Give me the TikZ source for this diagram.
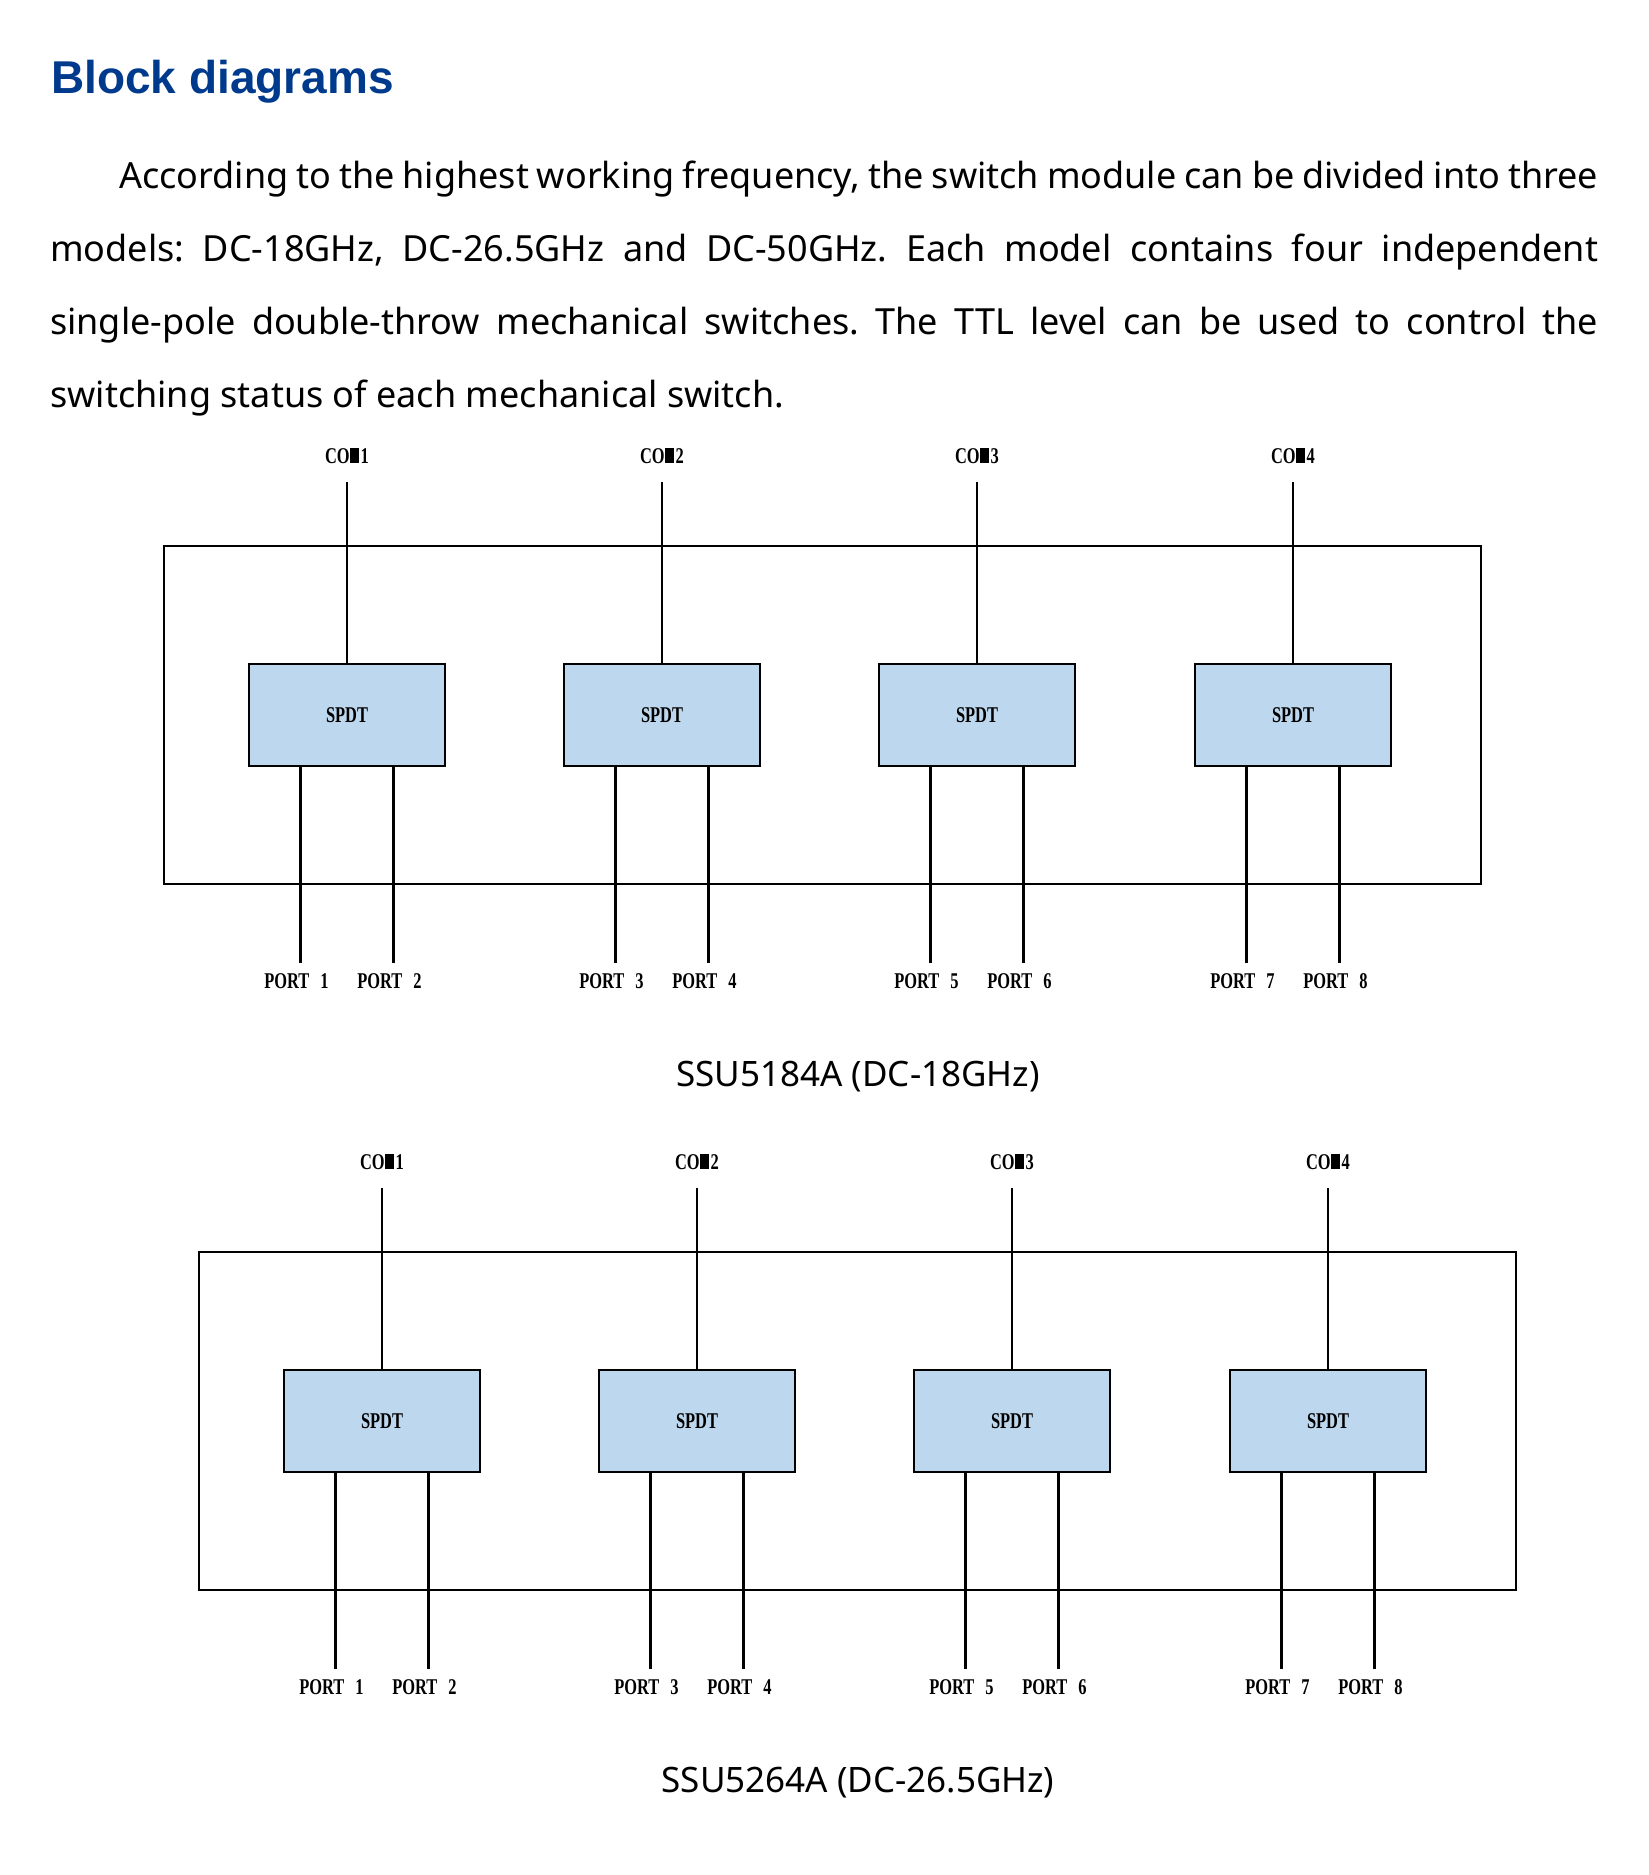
\documentclass[tikz,border=0pt]{standalone}
\usepackage{fontspec}
\usepackage{tikz}
\usepackage{color}
\setmainfont{Noto Sans}
\newfontfamily\titlefont{Liberation Sans}
\newfontfamily\lblfont[FakeStretch=0.73,WordSpace=2.7]{Liberation Serif}
\definecolor{titleblue}{RGB}{0,58,140}
\definecolor{spdtblue}{RGB}{189,215,238}
\newcommand{\comname}[1]{CO\kern0.5pt\rule{9pt}{14.9pt}\kern1.5pt#1}
\frenchspacing

\begin{document}
\begin{tikzpicture}[x=1pt,y=-1pt,
	every node/.style={inner sep=0pt},
	wire/.style={line width=2.6pt},
	outerbox/.style={draw,line width=2.6pt,minimum width=1317,minimum height=338},
	spdt/.style={draw,line width=2.6pt,fill=spdtblue,minimum width=196,minimum height=102,font=\lblfont\bfseries\fontsize{22.5}{24}\selectfont},
	lbl/.style={font=\lblfont\bfseries\fontsize{22.5}{24}\selectfont},
	caption/.style={font=\fontsize{35}{40}\selectfont}]
	\useasboundingbox[fill=white] (0,0) rectangle (1649,1875);
	% heading and text
	\node[anchor=base west,text=titleblue,font=\titlefont\bfseries\fontsize{46}{50}\selectfont] (title) at (51,93) {Block diagrams};
	\node[anchor=base west,text width=1548pt,align=justify,font=\fontsize{36}{73.3}\selectfont] (intro) at (50,188) {\hyphenpenalty=10000\exhyphenpenalty=10000\hspace*{69pt}According to the highest working frequency, the switch module can be divided into three\linebreak models: DC-18GHz, DC-26.5GHz and DC-50GHz. Each model contains four independent\linebreak single-pole double-throw mechanical switches. The TTL level can be used to control the\linebreak switching status of each mechanical switch.};
	% SSU5184A
	\node[outerbox] (boxA) at (822.5,715) {};
	\node[lbl] (comA1) at (347,456) {\comname{1}};
	\node[lbl] (comA2) at (662,456) {\comname{2}};
	\node[lbl] (comA3) at (977,456) {\comname{3}};
	\node[lbl] (comA4) at (1293,456) {\comname{4}};
	\coordinate (topA1) at (347,482);
	\coordinate (topA2) at (662,482);
	\coordinate (topA3) at (977,482);
	\coordinate (topA4) at (1293,482);
	\node[spdt] (swA1) at (347,715) {SPDT};
	\node[spdt] (swA2) at (662,715) {SPDT};
	\node[spdt] (swA3) at (977,715) {SPDT};
	\node[spdt] (swA4) at (1293,715) {SPDT};
	\draw[wire] (topA1) -- (swA1);
	\draw[wire] (topA2) -- (swA2);
	\draw[wire] (topA3) -- (swA3);
	\draw[wire] (topA4) -- (swA4);
	\coordinate (endA1) at (300.5,963);
	\coordinate (endA2) at (393.5,963);
	\coordinate (endA3) at (615.5,963);
	\coordinate (endA4) at (708.5,963);
	\coordinate (endA5) at (930.5,963);
	\coordinate (endA6) at (1023.5,963);
	\coordinate (endA7) at (1246.5,963);
	\coordinate (endA8) at (1339.5,963);
	\draw[wire] (swA1.south -| endA1) -- (endA1);
	\draw[wire] (swA1.south -| endA2) -- (endA2);
	\draw[wire] (swA2.south -| endA3) -- (endA3);
	\draw[wire] (swA2.south -| endA4) -- (endA4);
	\draw[wire] (swA3.south -| endA5) -- (endA5);
	\draw[wire] (swA3.south -| endA6) -- (endA6);
	\draw[wire] (swA4.south -| endA7) -- (endA7);
	\draw[wire] (swA4.south -| endA8) -- (endA8);
	\node[lbl] (portA1) at (296.5,981) {PORT 1};
	\node[lbl] (portA2) at (389.5,981) {PORT 2};
	\node[lbl] (portA3) at (611.5,981) {PORT 3};
	\node[lbl] (portA4) at (704.5,981) {PORT 4};
	\node[lbl] (portA5) at (926.5,981) {PORT 5};
	\node[lbl] (portA6) at (1019.5,981) {PORT 6};
	\node[lbl] (portA7) at (1242.5,981) {PORT 7};
	\node[lbl] (portA8) at (1335.5,981) {PORT 8};
	\node[caption] (capA) at (858,1077) {SSU5184A (DC-18GHz)};
	% SSU5264A
	\node[outerbox] (boxB) at (857.5,1421) {};
	\node[lbl] (comB1) at (382,1162) {\comname{1}};
	\node[lbl] (comB2) at (697,1162) {\comname{2}};
	\node[lbl] (comB3) at (1012,1162) {\comname{3}};
	\node[lbl] (comB4) at (1328,1162) {\comname{4}};
	\coordinate (topB1) at (382,1188);
	\coordinate (topB2) at (697,1188);
	\coordinate (topB3) at (1012,1188);
	\coordinate (topB4) at (1328,1188);
	\node[spdt] (swB1) at (382,1421) {SPDT};
	\node[spdt] (swB2) at (697,1421) {SPDT};
	\node[spdt] (swB3) at (1012,1421) {SPDT};
	\node[spdt] (swB4) at (1328,1421) {SPDT};
	\draw[wire] (topB1) -- (swB1);
	\draw[wire] (topB2) -- (swB2);
	\draw[wire] (topB3) -- (swB3);
	\draw[wire] (topB4) -- (swB4);
	\coordinate (endB1) at (335.5,1669);
	\coordinate (endB2) at (428.5,1669);
	\coordinate (endB3) at (650.5,1669);
	\coordinate (endB4) at (743.5,1669);
	\coordinate (endB5) at (965.5,1669);
	\coordinate (endB6) at (1058.5,1669);
	\coordinate (endB7) at (1281.5,1669);
	\coordinate (endB8) at (1374.5,1669);
	\draw[wire] (swB1.south -| endB1) -- (endB1);
	\draw[wire] (swB1.south -| endB2) -- (endB2);
	\draw[wire] (swB2.south -| endB3) -- (endB3);
	\draw[wire] (swB2.south -| endB4) -- (endB4);
	\draw[wire] (swB3.south -| endB5) -- (endB5);
	\draw[wire] (swB3.south -| endB6) -- (endB6);
	\draw[wire] (swB4.south -| endB7) -- (endB7);
	\draw[wire] (swB4.south -| endB8) -- (endB8);
	\node[lbl] (portB1) at (331.5,1687) {PORT 1};
	\node[lbl] (portB2) at (424.5,1687) {PORT 2};
	\node[lbl] (portB3) at (646.5,1687) {PORT 3};
	\node[lbl] (portB4) at (739.5,1687) {PORT 4};
	\node[lbl] (portB5) at (961.5,1687) {PORT 5};
	\node[lbl] (portB6) at (1054.5,1687) {PORT 6};
	\node[lbl] (portB7) at (1277.5,1687) {PORT 7};
	\node[lbl] (portB8) at (1370.5,1687) {PORT 8};
	\node[caption] (capB) at (858,1783) {SSU5264A (DC-26.5GHz)};
\end{tikzpicture}
\end{document}
